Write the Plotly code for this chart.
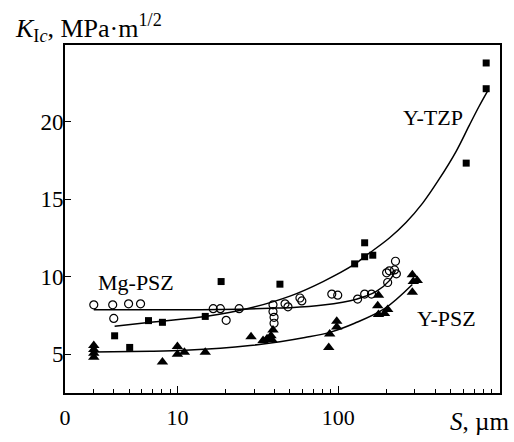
import plotly.graph_objects as go

# ---------------- data ----------------
# Y-TZP : filled squares
tzp_s = [4.07, 5.05, 6.61, 8.07, 14.9, 18.7, 43.4, 126.5, 146, 146, 164, 625, 832, 832]
tzp_k = [6.19, 5.44, 7.17, 7.06, 7.44, 9.69, 9.52, 10.83, 12.19, 11.29, 11.39, 17.33, 23.79, 22.13]
tzp_fit_s = [4.07, 6.81, 11.2, 14.9, 27.5, 50.1, 80.5, 126.5, 149.5, 208, 264, 335, 425, 539, 652, 752, 847]
tzp_fit_k = [6.81, 7.06, 7.29, 7.44, 7.95, 8.75, 9.69, 10.81, 11.38, 12.5, 13.5, 14.75, 16.31, 18.06, 19.75, 21.0, 21.96]

# Mg-PSZ : open circles
mg_s = [3.02, 3.96, 4.97, 5.90, 4.02, 16.7, 18.5, 20.1, 24.2, 39.3, 39.3, 39.9, 39.9,
        46.7, 48.7, 57.8, 59.4, 91.2, 99.3, 132, 146, 161, 203, 200, 208, 227, 224, 230]
mg_k = [8.19, 8.19, 8.25, 8.25, 7.31, 7.94, 7.94, 7.19, 7.94, 8.19, 7.75, 7.38, 7.0,
        8.25, 8.06, 8.63, 8.44, 8.88, 8.81, 8.56, 8.88, 8.88, 9.63, 10.25, 10.38, 11.0, 10.44, 10.19]
mg_fit_s = [3.02, 6.81, 13.9, 24.5, 37.7, 50.1, 80.5, 129.7, 172.5, 208, 227]
mg_fit_k = [7.875, 7.875, 7.875, 7.91, 7.97, 8.0, 8.17, 8.55, 9.05, 9.75, 10.4]

# Y-PSZ : filled triangles
ypsz_s = [3.02, 3.02, 3.02, 3.02, 8.07, 10.0, 10.0, 11.05, 14.9, 28.7, 34.1, 36.1, 38.2, 39.3, 38.7,
          87.3, 88.5, 97.9, 97.9, 178, 176, 178, 194, 203, 289, 293, 289, 310]
ypsz_k = [5.56, 5.31, 5.06, 4.81, 4.50, 5.50, 5.00, 5.13, 5.13, 6.13, 5.88, 6.00, 6.19, 6.56, 5.94,
          5.44, 6.31, 7.13, 6.75, 8.81, 8.13, 7.56, 7.63, 7.88, 10.13, 9.69, 9.00, 9.75]
ypsz_fit_s = [3.02, 6.81, 11.2, 18.5, 28.3, 43.4, 62.1, 88.5, 126.5, 194, 289]
ypsz_fit_k = [5.14, 5.19, 5.25, 5.38, 5.56, 5.81, 6.08, 6.41, 7.0, 7.94, 9.5]

x_tickvals = [2, 10, 100]
x_ticktext = ["0", "10", "100"]
x_minor = [3, 4, 5, 6, 7, 8, 9, 20, 30, 40, 50, 60, 70, 80, 90, 200, 300, 400, 500, 600, 700, 800, 900]
y_tickvals = [5, 10, 15, 20]

FONT = "Liberation Serif, Times New Roman, serif"

fig = go.Figure()

line_style = dict(color="black", width=1.5, shape="spline", smoothing=1.0)

fig.add_trace(go.Scatter(x=tzp_fit_s, y=tzp_fit_k, mode="lines", line=line_style, hoverinfo="skip"))
fig.add_trace(go.Scatter(x=mg_fit_s, y=mg_fit_k, mode="lines", line=line_style, hoverinfo="skip"))
fig.add_trace(go.Scatter(x=ypsz_fit_s, y=ypsz_fit_k, mode="lines", line=line_style, hoverinfo="skip"))

fig.add_trace(go.Scatter(x=tzp_s, y=tzp_k, mode="markers", name="Y-TZP",
                         marker=dict(symbol="square", size=7, color="black")))
fig.add_trace(go.Scatter(x=mg_s, y=mg_k, mode="markers", name="Mg-PSZ",
                         marker=dict(symbol="circle-open", size=8, color="black", line=dict(width=1.2))))
fig.add_trace(go.Scatter(x=ypsz_s, y=ypsz_k, mode="markers", name="Y-PSZ",
                         marker=dict(symbol="triangle-up", size=10, color="black")))

fig.update_layout(
    width=514, height=442,
    margin=dict(l=65, r=14, t=45, b=38),
    paper_bgcolor="white", plot_bgcolor="white",
    showlegend=False,
    font=dict(family=FONT, size=22, color="black"),
)

fig.update_xaxes(
    type="log", range=[0.301, 3.006],
    showgrid=False, zeroline=False,
    showline=True, linecolor="black", linewidth=1.8, mirror=True,
    tickmode="array", tickvals=x_tickvals, ticktext=x_ticktext,
    ticks="inside", ticklen=7, tickwidth=1.3, tickcolor="black",
    minor=dict(tickmode="array", tickvals=x_minor, ticks="inside", ticklen=4,
               tickwidth=1.2, tickcolor="black", showgrid=False),
    tickfont=dict(family=FONT, size=22, color="black"),
    ticklabelstandoff=4,
)
fig.update_yaxes(
    range=[2.5, 24.95],
    showgrid=False, zeroline=False,
    showline=True, linecolor="black", linewidth=1.8, mirror=True,
    tickmode="array", tickvals=y_tickvals,
    ticks="inside", ticklen=6, tickwidth=1.3, tickcolor="black",
    tickfont=dict(family=FONT, size=23, color="black"),
    ticklabelstandoff=-5,
)

ann_font = dict(family=FONT, size=22, color="black")
fig.add_annotation(text="Y-TZP", xref="paper", yref="paper", x=0.847, y=0.791,
                   xanchor="center", yanchor="middle", showarrow=False, font=ann_font)
fig.add_annotation(text="Mg-PSZ", xref="paper", yref="paper", x=0.163, y=0.3175,
                   xanchor="center", yanchor="middle", showarrow=False, font=ann_font)
fig.add_annotation(text="Y-PSZ", xref="paper", yref="paper", x=0.876, y=0.2145,
                   xanchor="center", yanchor="middle", showarrow=False, font=ann_font)
fig.add_annotation(text="<i>K</i><sub>I<i>c</i></sub>, MPa·m<sup>1/2</sup>",
                   xref="paper", yref="paper", x=-0.1195, y=1.05, xanchor="left", yanchor="middle",
                   showarrow=False, font=dict(family=FONT, size=26, color="black"))
fig.add_annotation(text="<i>S</i>, µm", xref="paper", yref="paper", x=0.952, y=-0.083,
                   xanchor="center", yanchor="middle", showarrow=False,
                   font=dict(family=FONT, size=25, color="black"))

fig.write_html("out.html")
